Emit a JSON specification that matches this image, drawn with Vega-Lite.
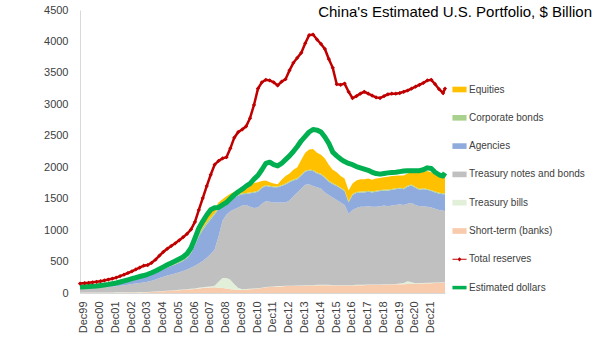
{
"$schema": "https://vega.github.io/schema/vega-lite/v6.json",
"width": 365, "height": 283,
"autosize": {"type": "none"},
"padding": {"left": 80, "top": 10, "right": 155, "bottom": 45},
"background": "white",
"config": {
  "view": {"stroke": null},
  "font": "Liberation Sans",
  "axis": {"grid": false, "ticks": false, "domainColor": "#D9D9D9", "labelFont": "Liberation Sans", "labelFontSize": 11, "labelColor": "#404040"},
  "axisY": {"labelPadding": 12, "tickCount": 9, "format": "d"},
  "legend": {"orient": "none", "legendX": 372, "legendY": 72, "symbolSize": 200, "symbolOpacity": 1, "symbolStrokeWidth": 0, "labelFontSize": 10, "labelFont": "Liberation Sans", "labelColor": "#404040", "rowPadding": 15.3, "labelOffset": 2, "padding": 0, "labelLimit": 300}
},
"title": {"text": "China's Estimated U.S. Portfolio, $ Billion", "anchor": "end", "frame": "group", "dx": 147, "offset": -16, "fontSize": 15, "fontWeight": "normal", "font": "Liberation Sans", "color": "#000000"},
"datasets": {
  "main": [
{"date":"1999-09-15","short":3,"bills":5,"notes":72,"agencies":8,"corp":2,"equities":0,"reserves":150,"dollars":95},
{"date":"2000-01-01","short":3,"bills":5,"notes":74,"agencies":10,"corp":2,"equities":0,"reserves":158,"dollars":100},
{"date":"2000-04-01","short":3,"bills":5,"notes":76,"agencies":12,"corp":2,"equities":0,"reserves":163,"dollars":104},
{"date":"2000-07-01","short":3,"bills":5,"notes":78,"agencies":14,"corp":2,"equities":0,"reserves":170,"dollars":108},
{"date":"2000-10-01","short":3,"bills":5,"notes":80,"agencies":17,"corp":2,"equities":0,"reserves":178,"dollars":113},
{"date":"2001-01-01","short":3,"bills":5,"notes":82,"agencies":22,"corp":2,"equities":0,"reserves":188,"dollars":120},
{"date":"2001-04-01","short":4,"bills":5,"notes":84,"agencies":27,"corp":2,"equities":0,"reserves":200,"dollars":128},
{"date":"2001-07-01","short":4,"bills":5,"notes":88,"agencies":31,"corp":3,"equities":0,"reserves":214,"dollars":137},
{"date":"2001-10-01","short":4,"bills":5,"notes":93,"agencies":36,"corp":3,"equities":0,"reserves":228,"dollars":148},
{"date":"2002-01-01","short":5,"bills":5,"notes":98,"agencies":42,"corp":3,"equities":0,"reserves":245,"dollars":160},
{"date":"2002-04-01","short":5,"bills":5,"notes":105,"agencies":48,"corp":4,"equities":0,"reserves":268,"dollars":175},
{"date":"2002-07-01","short":6,"bills":5,"notes":113,"agencies":54,"corp":5,"equities":0,"reserves":292,"dollars":192},
{"date":"2002-10-01","short":6,"bills":5,"notes":122,"agencies":62,"corp":5,"equities":0,"reserves":318,"dollars":210},
{"date":"2003-01-01","short":7,"bills":5,"notes":130,"agencies":70,"corp":6,"equities":0,"reserves":345,"dollars":228},
{"date":"2003-04-01","short":8,"bills":5,"notes":139,"agencies":76,"corp":7,"equities":0,"reserves":375,"dollars":245},
{"date":"2003-07-01","short":9,"bills":5,"notes":146,"agencies":83,"corp":8,"equities":0,"reserves":405,"dollars":262},
{"date":"2003-10-01","short":10,"bills":5,"notes":153,"agencies":90,"corp":9,"equities":0,"reserves":435,"dollars":278},
{"date":"2004-01-01","short":12,"bills":5,"notes":163,"agencies":96,"corp":11,"equities":0,"reserves":445,"dollars":298},
{"date":"2004-04-01","short":15,"bills":5,"notes":175,"agencies":103,"corp":13,"equities":0,"reserves":480,"dollars":322},
{"date":"2004-07-01","short":18,"bills":5,"notes":192,"agencies":108,"corp":15,"equities":0,"reserves":530,"dollars":350},
{"date":"2004-10-01","short":22,"bills":5,"notes":211,"agencies":112,"corp":18,"equities":0,"reserves":595,"dollars":382},
{"date":"2005-01-01","short":26,"bills":5,"notes":227,"agencies":120,"corp":22,"equities":0,"reserves":655,"dollars":415},
{"date":"2005-04-01","short":30,"bills":5,"notes":243,"agencies":127,"corp":27,"equities":0,"reserves":705,"dollars":448},
{"date":"2005-07-01","short":35,"bills":5,"notes":255,"agencies":135,"corp":30,"equities":2,"reserves":748,"dollars":478},
{"date":"2005-10-01","short":40,"bills":5,"notes":267,"agencies":143,"corp":33,"equities":4,"reserves":790,"dollars":508},
{"date":"2006-01-01","short":45,"bills":5,"notes":280,"agencies":152,"corp":33,"equities":7,"reserves":838,"dollars":540},
{"date":"2006-04-01","short":50,"bills":5,"notes":295,"agencies":160,"corp":35,"equities":10,"reserves":888,"dollars":572},
{"date":"2006-07-01","short":55,"bills":6,"notes":311,"agencies":183,"corp":37,"equities":13,"reserves":940,"dollars":625},
{"date":"2006-10-01","short":60,"bills":7,"notes":333,"agencies":230,"corp":40,"equities":20,"reserves":1010,"dollars":715},
{"date":"2007-01-01","short":65,"bills":8,"notes":362,"agencies":325,"corp":40,"equities":30,"reserves":1130,"dollars":870},
{"date":"2007-04-01","short":72,"bills":10,"notes":388,"agencies":430,"corp":40,"equities":50,"reserves":1320,"dollars":1030},
{"date":"2007-07-01","short":78,"bills":12,"notes":420,"agencies":490,"corp":40,"equities":60,"reserves":1510,"dollars":1140},
{"date":"2007-10-01","short":85,"bills":13,"notes":462,"agencies":530,"corp":40,"equities":70,"reserves":1700,"dollars":1240},
{"date":"2008-01-01","short":88,"bills":17,"notes":515,"agencies":550,"corp":30,"equities":90,"reserves":1880,"dollars":1325},
{"date":"2008-04-01","short":90,"bills":25,"notes":575,"agencies":560,"corp":25,"equities":65,"reserves":2040,"dollars":1355},
{"date":"2008-07-01","short":85,"bills":95,"notes":720,"agencies":430,"corp":20,"equities":90,"reserves":2100,"dollars":1360},
{"date":"2008-10-01","short":80,"bills":160,"notes":910,"agencies":250,"corp":15,"equities":75,"reserves":2140,"dollars":1400},
{"date":"2009-01-01","short":70,"bills":170,"notes":1010,"agencies":200,"corp":15,"equities":75,"reserves":2160,"dollars":1440},
{"date":"2009-04-01","short":60,"bills":150,"notes":1090,"agencies":190,"corp":15,"equities":75,"reserves":2300,"dollars":1500},
{"date":"2009-07-01","short":55,"bills":85,"notes":1190,"agencies":190,"corp":15,"equities":75,"reserves":2470,"dollars":1560},
{"date":"2009-10-01","short":50,"bills":30,"notes":1280,"agencies":190,"corp":15,"equities":75,"reserves":2560,"dollars":1610},
{"date":"2010-01-01","short":50,"bills":10,"notes":1330,"agencies":180,"corp":15,"equities":75,"reserves":2600,"dollars":1650},
{"date":"2010-04-01","short":55,"bills":7,"notes":1338,"agencies":175,"corp":15,"equities":60,"reserves":2650,"dollars":1700},
{"date":"2010-07-01","short":60,"bills":6,"notes":1304,"agencies":215,"corp":15,"equities":100,"reserves":2780,"dollars":1740},
{"date":"2010-10-01","short":65,"bills":5,"notes":1280,"agencies":245,"corp":15,"equities":140,"reserves":2990,"dollars":1810},
{"date":"2011-01-01","short":70,"bills":5,"notes":1285,"agencies":250,"corp":15,"equities":135,"reserves":3250,"dollars":1870},
{"date":"2011-04-01","short":80,"bills":5,"notes":1335,"agencies":250,"corp":15,"equities":95,"reserves":3350,"dollars":1960},
{"date":"2011-07-01","short":90,"bills":5,"notes":1365,"agencies":240,"corp":15,"equities":75,"reserves":3390,"dollars":2060},
{"date":"2011-10-01","short":95,"bills":5,"notes":1350,"agencies":240,"corp":15,"equities":55,"reserves":3380,"dollars":2080},
{"date":"2012-01-01","short":100,"bills":5,"notes":1335,"agencies":240,"corp":15,"equities":45,"reserves":3350,"dollars":2040},
{"date":"2012-04-01","short":105,"bills":5,"notes":1330,"agencies":240,"corp":15,"equities":35,"reserves":3300,"dollars":2020},
{"date":"2012-07-01","short":105,"bills":5,"notes":1330,"agencies":260,"corp":15,"equities":85,"reserves":3360,"dollars":2060},
{"date":"2012-10-01","short":110,"bills":5,"notes":1325,"agencies":285,"corp":15,"equities":120,"reserves":3400,"dollars":2120},
{"date":"2013-01-01","short":110,"bills":5,"notes":1355,"agencies":290,"corp":15,"equities":125,"reserves":3540,"dollars":2180},
{"date":"2013-04-01","short":110,"bills":5,"notes":1425,"agencies":250,"corp":15,"equities":155,"reserves":3660,"dollars":2250},
{"date":"2013-07-01","short":115,"bills":5,"notes":1480,"agencies":210,"corp":15,"equities":175,"reserves":3740,"dollars":2330},
{"date":"2013-10-01","short":115,"bills":5,"notes":1540,"agencies":210,"corp":15,"equities":235,"reserves":3820,"dollars":2420},
{"date":"2014-01-01","short":120,"bills":5,"notes":1595,"agencies":210,"corp":15,"equities":285,"reserves":3970,"dollars":2490},
{"date":"2014-04-01","short":120,"bills":5,"notes":1605,"agencies":215,"corp":15,"equities":320,"reserves":4100,"dollars":2560},
{"date":"2014-07-01","short":120,"bills":5,"notes":1575,"agencies":240,"corp":15,"equities":335,"reserves":4110,"dollars":2600},
{"date":"2014-10-01","short":125,"bills":5,"notes":1550,"agencies":220,"corp":15,"equities":315,"reserves":4030,"dollars":2590},
{"date":"2015-01-01","short":125,"bills":5,"notes":1530,"agencies":220,"corp":15,"equities":305,"reserves":3960,"dollars":2560},
{"date":"2015-04-01","short":125,"bills":5,"notes":1470,"agencies":230,"corp":15,"equities":295,"reserves":3880,"dollars":2480},
{"date":"2015-07-01","short":125,"bills":5,"notes":1430,"agencies":210,"corp":15,"equities":255,"reserves":3720,"dollars":2380},
{"date":"2015-10-01","short":120,"bills":5,"notes":1395,"agencies":210,"corp":15,"equities":215,"reserves":3580,"dollars":2240},
{"date":"2016-01-01","short":120,"bills":5,"notes":1355,"agencies":220,"corp":15,"equities":205,"reserves":3320,"dollars":2180},
{"date":"2016-04-01","short":120,"bills":5,"notes":1315,"agencies":220,"corp":15,"equities":185,"reserves":3310,"dollars":2130},
{"date":"2016-07-01","short":120,"bills":5,"notes":1275,"agencies":220,"corp":15,"equities":185,"reserves":3330,"dollars":2090},
{"date":"2016-10-01","short":120,"bills":5,"notes":1135,"agencies":180,"corp":15,"equities":175,"reserves":3200,"dollars":2060},
{"date":"2017-01-01","short":120,"bills":5,"notes":1195,"agencies":240,"corp":15,"equities":165,"reserves":3100,"dollars":2040},
{"date":"2017-04-01","short":125,"bills":5,"notes":1220,"agencies":240,"corp":15,"equities":185,"reserves":3130,"dollars":2010},
{"date":"2017-07-01","short":125,"bills":5,"notes":1240,"agencies":230,"corp":15,"equities":195,"reserves":3170,"dollars":1990},
{"date":"2017-10-01","short":125,"bills":5,"notes":1240,"agencies":230,"corp":15,"equities":195,"reserves":3200,"dollars":1970},
{"date":"2018-01-01","short":130,"bills":5,"notes":1245,"agencies":230,"corp":15,"equities":195,"reserves":3170,"dollars":1950},
{"date":"2018-04-01","short":130,"bills":5,"notes":1235,"agencies":230,"corp":15,"equities":185,"reserves":3140,"dollars":1920},
{"date":"2018-07-01","short":130,"bills":5,"notes":1235,"agencies":240,"corp":15,"equities":195,"reserves":3110,"dollars":1900},
{"date":"2018-10-01","short":130,"bills":5,"notes":1245,"agencies":240,"corp":15,"equities":195,"reserves":3100,"dollars":1890},
{"date":"2019-01-01","short":135,"bills":5,"notes":1250,"agencies":240,"corp":15,"equities":195,"reserves":3130,"dollars":1900},
{"date":"2019-04-01","short":135,"bills":5,"notes":1240,"agencies":245,"corp":15,"equities":210,"reserves":3160,"dollars":1910},
{"date":"2019-07-01","short":135,"bills":5,"notes":1250,"agencies":250,"corp":15,"equities":205,"reserves":3170,"dollars":1915},
{"date":"2019-10-01","short":140,"bills":5,"notes":1255,"agencies":250,"corp":15,"equities":200,"reserves":3170,"dollars":1920},
{"date":"2020-01-01","short":140,"bills":10,"notes":1260,"agencies":250,"corp":15,"equities":195,"reserves":3180,"dollars":1930},
{"date":"2020-04-01","short":140,"bills":20,"notes":1240,"agencies":250,"corp":15,"equities":205,"reserves":3200,"dollars":1940},
{"date":"2020-07-01","short":145,"bills":40,"notes":1235,"agencies":270,"corp":15,"equities":195,"reserves":3220,"dollars":1945},
{"date":"2020-10-01","short":145,"bills":25,"notes":1260,"agencies":280,"corp":15,"equities":195,"reserves":3250,"dollars":1945},
{"date":"2021-01-01","short":145,"bills":10,"notes":1245,"agencies":270,"corp":15,"equities":225,"reserves":3280,"dollars":1945},
{"date":"2021-04-01","short":150,"bills":8,"notes":1222,"agencies":260,"corp":15,"equities":265,"reserves":3310,"dollars":1945},
{"date":"2021-07-01","short":150,"bills":8,"notes":1222,"agencies":270,"corp":15,"equities":265,"reserves":3340,"dollars":1960},
{"date":"2021-10-01","short":155,"bills":7,"notes":1208,"agencies":270,"corp":15,"equities":285,"reserves":3380,"dollars":1990},
{"date":"2022-01-01","short":155,"bills":7,"notes":1198,"agencies":260,"corp":15,"equities":285,"reserves":3390,"dollars":1980},
{"date":"2022-04-01","short":160,"bills":7,"notes":1173,"agencies":260,"corp":15,"equities":265,"reserves":3320,"dollars":1920},
{"date":"2022-07-01","short":160,"bills":7,"notes":1153,"agencies":260,"corp":15,"equities":255,"reserves":3240,"dollars":1880},
{"date":"2022-10-01","short":165,"bills":7,"notes":1138,"agencies":260,"corp":15,"equities":255,"reserves":3180,"dollars":1860},
{"date":"2022-11-15","short":165,"bills":7,"notes":1128,"agencies":270,"corp":15,"equities":255,"reserves":3250,"dollars":1910}
  ]
},
"data": {"name": "main"},
"encoding": {
  "x": {"field": "date", "type": "temporal", "title": null,
    "scale": {"type": "utc", "domain": [{"year": 1999, "month": 9, "date": 15, "utc": true}, {"year": 2022, "month": 11, "date": 15, "utc": true}]},
    "axis": {"format": "%b%y", "labelAngle": -90, "labelPadding": 8,
      "values": [
        {"year":1999,"month":12,"date":15,"utc":true},{"year":2000,"month":12,"date":15,"utc":true},{"year":2001,"month":12,"date":15,"utc":true},{"year":2002,"month":12,"date":15,"utc":true},{"year":2003,"month":12,"date":15,"utc":true},{"year":2004,"month":12,"date":15,"utc":true},{"year":2005,"month":12,"date":15,"utc":true},{"year":2006,"month":12,"date":15,"utc":true},{"year":2007,"month":12,"date":15,"utc":true},{"year":2008,"month":12,"date":15,"utc":true},{"year":2009,"month":12,"date":15,"utc":true},{"year":2010,"month":12,"date":15,"utc":true},{"year":2011,"month":12,"date":15,"utc":true},{"year":2012,"month":12,"date":15,"utc":true},{"year":2013,"month":12,"date":15,"utc":true},{"year":2014,"month":12,"date":15,"utc":true},{"year":2015,"month":12,"date":15,"utc":true},{"year":2016,"month":12,"date":15,"utc":true},{"year":2017,"month":12,"date":15,"utc":true},{"year":2018,"month":12,"date":15,"utc":true},{"year":2019,"month":12,"date":15,"utc":true},{"year":2020,"month":12,"date":15,"utc":true},{"year":2021,"month":12,"date":15,"utc":true}
      ]}}
},
"layer": [
  {
    "transform": [
      {"fold": ["short", "bills", "notes", "agencies", "corp", "equities"], "as": ["key", "value"]},
      {"lookup": "key", "from": {"data": {"values": [
        {"key": "short", "label": "Short-term (banks)", "ord": 1},
        {"key": "bills", "label": "Treasury bills", "ord": 2},
        {"key": "notes", "label": "Treasury notes and bonds", "ord": 3},
        {"key": "agencies", "label": "Agencies", "ord": 4},
        {"key": "corp", "label": "Corporate bonds", "ord": 5},
        {"key": "equities", "label": "Equities", "ord": 6}
      ]}, "key": "key", "fields": ["label", "ord"]}}
    ],
    "mark": {"type": "area", "interpolate": "linear"},
    "encoding": {
      "y": {"field": "value", "type": "quantitative", "stack": "zero", "title": null, "scale": {"domain": [0, 4500], "nice": false}},
      "color": {"field": "label", "type": "nominal", "title": null,
        "scale": {"domain": ["Equities", "Corporate bonds", "Agencies", "Treasury notes and bonds", "Treasury bills", "Short-term (banks)", "Total reserves", "Estimated dollars"],
                  "range": ["#FFC000", "#A9D18E", "#8FAADC", "#C0C0C0", "#E2F0D9", "#F8CBAD", "#C00000", "#00B050"]},
        "legend": {"title": null}},
      "order": {"field": "ord", "type": "quantitative", "sort": "ascending"}
    }
  },
  {
    "mark": {"type": "line", "color": "#00B050", "strokeWidth": 5, "strokeJoin": "round"},
    "encoding": {"y": {"field": "dollars", "type": "quantitative", "title": null}}
  },
  {
    "mark": {"type": "line", "color": "#C00000", "strokeWidth": 2.5, "point": {"shape": "diamond", "size": 18, "filled": true, "color": "#C00000"}},
    "encoding": {"y": {"field": "reserves", "type": "quantitative", "title": null}}
  },
  {
    "data": {"values": [
      {"label": "Equities"}, {"label": "Corporate bonds"}, {"label": "Agencies"}, {"label": "Treasury notes and bonds"},
      {"label": "Treasury bills"}, {"label": "Short-term (banks)"}, {"label": "Total reserves"}, {"label": "Estimated dollars"}
    ]},
    "mark": {"type": "point", "filled": true, "size": 0},
    "encoding": {
      "x": null,
      "color": {"field": "label", "type": "nominal", "title": null,
        "scale": {"domain": ["Equities", "Corporate bonds", "Agencies", "Treasury notes and bonds", "Treasury bills", "Short-term (banks)", "Total reserves", "Estimated dollars"],
                  "range": ["#FFC000", "#A9D18E", "#8FAADC", "#C0C0C0", "#E2F0D9", "#F8CBAD", "#C00000", "#00B050"]},
        "legend": {"title": null}},
      "shape": {"field": "label", "type": "nominal", "title": null,
        "scale": {"domain": ["Equities", "Corporate bonds", "Agencies", "Treasury notes and bonds", "Treasury bills", "Short-term (banks)", "Total reserves", "Estimated dollars"],
                  "range": ["M-1,-0.4H1V0.4H-1Z", "M-1,-0.4H1V0.4H-1Z", "M-1,-0.4H1V0.4H-1Z", "M-1,-0.4H1V0.4H-1Z", "M-1,-0.4H1V0.4H-1Z", "M-1,-0.4H1V0.4H-1Z", "M-1,-0.08H1V0.08H-1Z M-0.3,0L0,-0.3L0.3,0L0,0.3Z", "M-1,-0.25H1V0.25H-1Z"]},
        "legend": {"title": null}}
    }
  }
]
}
